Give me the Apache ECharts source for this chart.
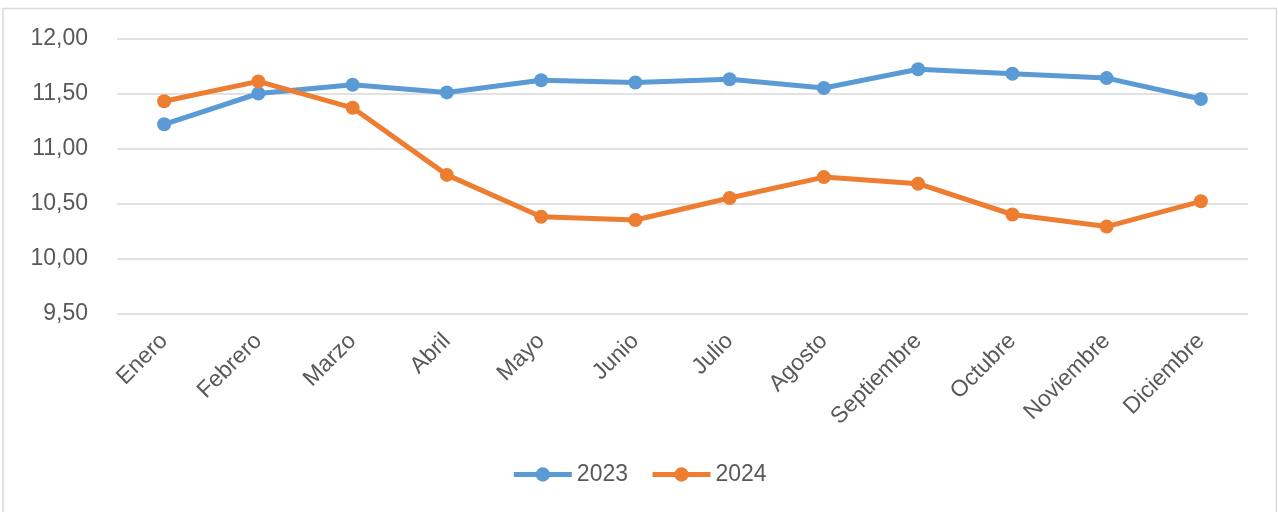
<!DOCTYPE html>
<html>
<head>
<meta charset="utf-8">
<script src="https://cdn.jsdelivr.net/npm/echarts@6/dist/echarts.min.js"></script>
<style>
html,body{margin:0;padding:0;background:#fff;}
#chart{width:1278px;height:512px;}
</style>
</head>
<body>
<div id="chart"></div>
<script>
const categories = ['Enero','Febrero','Marzo','Abril','Mayo','Junio','Julio','Agosto','Septiembre','Octubre','Noviembre','Diciembre'];
const values2023 = [11.22, 11.50, 11.58, 11.51, 11.62, 11.60, 11.63, 11.55, 11.72, 11.68, 11.64, 11.45];
const values2024 = [11.43, 11.61, 11.37, 10.76, 10.38, 10.35, 10.55, 10.74, 10.68, 10.40, 10.29, 10.52];
const seriesNames = ['2023', '2024'];

const chart = echarts.init(document.getElementById('chart'), null, {renderer: 'canvas'});
const font = 'Liberation Sans, Arial, sans-serif';
const colors = ['#5B9BD5', '#ED7D31'];

function mkSeries(name, data, color) {
  return {
    name: name,
    type: 'line',
    data: data,
    symbol: 'circle',
    symbolSize: 14,
    lineStyle: {color: color, width: 5},
    itemStyle: {color: color},
    emphasis: {disabled: true},
    animation: false
  };
}

chart.setOption({
  animation: false,
  color: colors,
  graphic: [{
    type: 'rect',
    shape: {x: 3, y: 8.5, width: 1273.5, height: 520},
    style: {fill: 'none', stroke: '#d9d9d9', lineWidth: 1.5},
    silent: true
  }],
  grid: {left: 117, right: 30, top: 38.5, bottom: 198.5, containLabel: false},
  legend: {
    data: seriesNames,
    left: 'center',
    top: 458,
    itemWidth: 58,
    itemHeight: 18,
    itemGap: 22,
    lineStyle: {width: 5},
    textStyle: {fontFamily: font, fontSize: 23, color: '#595959'}
  },
  xAxis: {
    type: 'category',
    data: categories,
    boundaryGap: true,
    axisLine: {show: false},
    axisTick: {show: false},
    axisLabel: {
      rotate: 45,
      margin: 24,
      interval: 0,
      fontFamily: font,
      fontSize: 23,
      color: '#595959'
    }
  },
  yAxis: {
    type: 'value',
    min: 9.5,
    max: 12,
    interval: 0.5,
    axisLine: {show: false},
    axisTick: {show: false},
    splitLine: {lineStyle: {color: '#d9d9d9', width: 1.5}},
    axisLabel: {
      margin: 29,
      fontFamily: font,
      fontSize: 23,
      color: '#595959',
      formatter: v => v.toFixed(2).replace('.', ',')
    }
  },
  series: [
    mkSeries(seriesNames[0], values2023, colors[0]),
    mkSeries(seriesNames[1], values2024, colors[1])
  ]
});
</script>
</body>
</html>
